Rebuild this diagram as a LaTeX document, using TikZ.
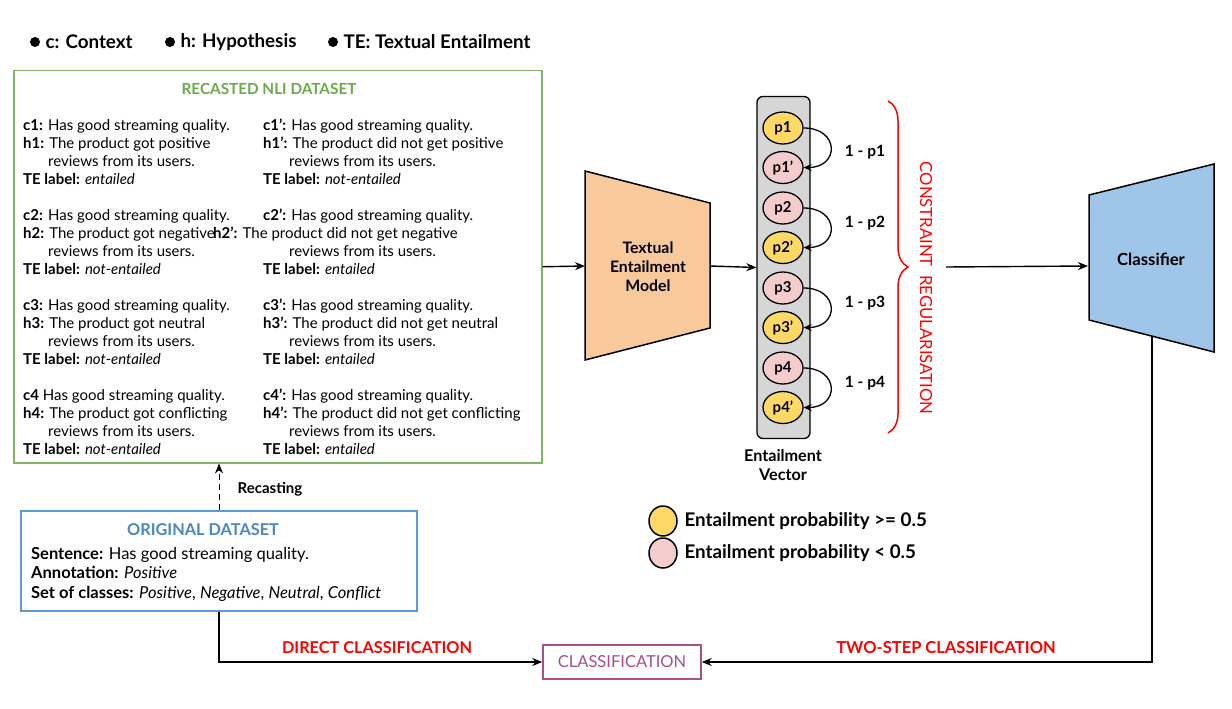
\documentclass[tikz,border=0pt]{standalone}
\usepackage{fontspec}
\setmainfont{Lato}
\usetikzlibrary{shapes.geometric,arrows.meta,decorations.pathreplacing,calc}
\definecolor{greenb}{HTML}{82B366}
\definecolor{greent}{HTML}{6AAB4A}
\definecolor{blueb}{HTML}{5B9BD5}
\definecolor{bluet}{HTML}{4A86C8}
\definecolor{temfill}{HTML}{F7C99B}
\definecolor{clffill}{HTML}{9FC5E8}
\definecolor{yel}{HTML}{FFD966}
\definecolor{pnk}{HTML}{F4CCCC}
\definecolor{vgray}{HTML}{D6D6D6}
\definecolor{clsc}{HTML}{A8508A}
\begin{document}
\begin{tikzpicture}[x=1pt,y=-1pt,
  font=\fontsize{15}{18}\selectfont,
  arr/.style={-{Stealth[length=10pt,width=8pt]}, line width=1.4pt},
  blk/.style={anchor=north west, align=left, inner sep=0pt, font=\fontsize{15}{18}\selectfont},
  prob/.style={ellipse, draw, line width=1.3pt, minimum width=40pt, minimum height=32pt, inner sep=0pt, font=\bfseries\fontsize{15}{16}\selectfont},
  yp/.style={prob, fill=yel},
  pp/.style={prob, fill=pnk},
  carr/.style={-{Stealth[length=8pt,width=7pt]}, line width=1.3pt},
  onep/.style={font=\bfseries\fontsize{15.5}{16}\selectfont},
  legtxt/.style={anchor=west, font=\bfseries\fontsize{18.8}{20}\selectfont},
  bul/.style={circle, fill=black, inner sep=0pt, minimum size=10pt},
  redlab/.style={text=red, font=\bfseries\fontsize{16.3}{18}\selectfont}
]
\fill[white] (0,0) rectangle (1232,709);
\useasboundingbox (0,0) rectangle (1232,709);

% top legend
\node[bul] (b1) at (35,42) {};
\node[legtxt] (l1) at (42,42) {c: Context};
\node[bul] (b2) at (170,42) {};
\node[legtxt] (l2) at (177,42) {h: Hypothesis};
\node[bul] (b3) at (333,42) {};
\node[legtxt] (l3) at (340,42) {TE: Textual Entailment};

% recasted NLI dataset
\node[draw=greenb, line width=1.5pt, minimum width=528pt, minimum height=392pt, anchor=north west, inner sep=0pt] (nli) at (13,70) {};
\node[text=greent, font=\bfseries\fontsize{15.3}{17}\selectfont] (nlititle) at (269,89) {RECASTED NLI DATASET};

\node[blk] (r1l) at (23,119) {\textbf{c1:} Has good streaming quality.\\ \textbf{h1:} The product got positive\\ \hspace*{25pt}reviews from its users.\\ \textbf{TE label:} \textit{entailed}};
\node[blk] (r1r) at (263,119) {\textbf{c1’:} Has good streaming quality.\\ \textbf{h1’:} The product did not get positive\\ \hspace*{26pt}reviews from its users.\\ \textbf{TE label:} \textit{not-entailed}};
\node[blk] (r2l) at (23,209) {\textbf{c2:} Has good streaming quality.\\ \textbf{h2:} The product got negative\\ \hspace*{25pt}reviews from its users.\\ \textbf{TE label:} \textit{not-entailed}};
\node[blk] (r2r) at (263,209) {\textbf{c2’:} Has good streaming quality.\\ \hspace*{-50pt}\textbf{h2’:} The product did not get negative\\ \hspace*{26pt}reviews from its users.\\ \textbf{TE label:} \textit{entailed}};
\node[blk] (r3l) at (23,299) {\textbf{c3:} Has good streaming quality.\\ \textbf{h3:} The product got neutral\\ \hspace*{25pt}reviews from its users.\\ \textbf{TE label:} \textit{not-entailed}};
\node[blk] (r3r) at (263,299) {\textbf{c3’:} Has good streaming quality.\\ \textbf{h3’:} The product did not get neutral\\ \hspace*{26pt}reviews from its users.\\ \textbf{TE label:} \textit{entailed}};
\node[blk] (r4l) at (23,389) {\textbf{c4} Has good streaming quality.\\ \textbf{h4:} The product got conflicting\\ \hspace*{25pt}reviews from its users.\\ \textbf{TE label:} \textit{not-entailed}};
\node[blk] (r4r) at (263,389) {\textbf{c4’:} Has good streaming quality.\\ \textbf{h4’:} The product did not get conflicting\\ \hspace*{26pt}reviews from its users.\\ \textbf{TE label:} \textit{entailed}};

% textual entailment model
\draw[fill=temfill, line width=1.5pt] (585,171) -- (710,203) -- (710,328) -- (585,360) -- cycle;
\node[align=center, font=\bfseries\fontsize{15.8}{19}\selectfont] (tem) at (648,267) {Textual\\Entailment\\Model};
\coordinate (temin) at (585,266);
\coordinate (temout) at (710,266);

% entailment vector
\node[draw, fill=vgray, rounded corners=6pt, line width=1.3pt, minimum width=53pt, minimum height=342pt, inner sep=0pt] (vec) at (783.5,267.5) {};
\node[yp] (p1) at (783,128) {p1};
\node[pp] (p1p) at (783,167.5) {p1’};
\node[pp] (p2) at (783,208) {p2};
\node[yp] (p2p) at (783,247.5) {p2’};
\node[pp] (p3) at (783,288) {p3};
\node[yp] (p3p) at (783,327.5) {p3’};
\node[pp] (p4) at (783,368) {p4};
\node[yp] (p4p) at (783,407.5) {p4’};
\node[align=center, font=\bfseries\fontsize{16.2}{19}\selectfont] (veclab) at (783,465) {Entailment\\Vector};

\draw[carr] (p1.east) to[out=0,in=0,distance=36pt] (p1p.east);
\draw[carr] (p2.east) to[out=0,in=0,distance=36pt] (p2p.east);
\draw[carr] (p3.east) to[out=0,in=0,distance=36pt] (p3p.east);
\draw[carr] (p4.east) to[out=0,in=0,distance=36pt] (p4p.east);
\node[onep] (q1) at (865,152) {1 - p1};
\node[onep] (q2) at (865,223) {1 - p2};
\node[onep] (q3) at (865,303) {1 - p3};
\node[onep] (q4) at (865,383) {1 - p4};

% brace
\draw[red, line width=1.5pt, decorate, decoration={brace, amplitude=20pt}] (888,101) -- (888,433);
\node[text=red, rotate=-90, font=\fontsize{16.7}{18}\selectfont] (creg) at (926,288) {CONSTRAINT\ \ REGULARISATION};
\coordinate (cregout) at (946,267);

% classifier
\draw[fill=clffill, line width=1.5pt] (1089,195) -- (1214,164) -- (1214,352) -- (1089,320) -- cycle;
\node[font=\bfseries\fontsize{16.7}{18}\selectfont] (clf) at (1151,259) {Classifier};
\coordinate (clfin) at (1088,266);
\coordinate (clfbot) at (1152,336);

% arrows main flow
\draw[arr] (nli.east) -- (temin);
\draw[arr] (temout) -- (vec.west);
\draw[arr] (cregout) -- (clfin);

% legend bottom
\node[ellipse, draw, fill=yel, line width=1.5pt, minimum width=28pt, minimum height=30pt, inner sep=0pt] (ly) at (663,521) {};
\node[legtxt] (lyt) at (681,521) {Entailment probability >= 0.5};
\node[ellipse, draw, fill=pnk, line width=1.5pt, minimum width=28pt, minimum height=30pt, inner sep=0pt] (lp) at (663,553) {};
\node[legtxt] (lpt) at (681,553) {Entailment probability < 0.5};

% original dataset
\node[draw=blueb, line width=1.5pt, minimum width=396pt, minimum height=100pt, inner sep=0pt] (orig) at (219,561) {};
\node[text=bluet, font=\bfseries\fontsize{16.3}{18}\selectfont] (origtitle) at (203,530) {ORIGINAL DATASET};
\node[blk, font=\fontsize{16.5}{19.5}\selectfont] (origtxt) at (31,547) {\textbf{Sentence:} Has good streaming quality.\\ \textbf{Annotation:} \textit{Positive}\\ \textbf{Set of classes:} \textit{Positive}, \textit{Negative}, \textit{Neutral}, \textit{Conflict}};

\draw[arr, dash pattern=on 6pt off 4pt, line width=1pt] (orig.north) -- (orig.north |- nli.south);
\node[font=\bfseries\fontsize{15}{17}\selectfont] (recast) at (270,489) {Recasting};

% classification
\node[draw=clsc, text=clsc, line width=1.5pt, minimum width=158pt, minimum height=34pt, inner sep=0pt, font=\fontsize{16.5}{18}\selectfont] (cls) at (622,662) {CLASSIFICATION};
\draw[arr] (orig.south) |- (cls.west);
\draw[arr] (clfbot) |- (cls.east);
\node[redlab] (dc) at (377,648) {DIRECT CLASSIFICATION};
\node[redlab, font=\bfseries\fontsize{16.5}{18}\selectfont] (tc) at (946,648) {TWO-STEP CLASSIFICATION};
\end{tikzpicture}
\end{document}
